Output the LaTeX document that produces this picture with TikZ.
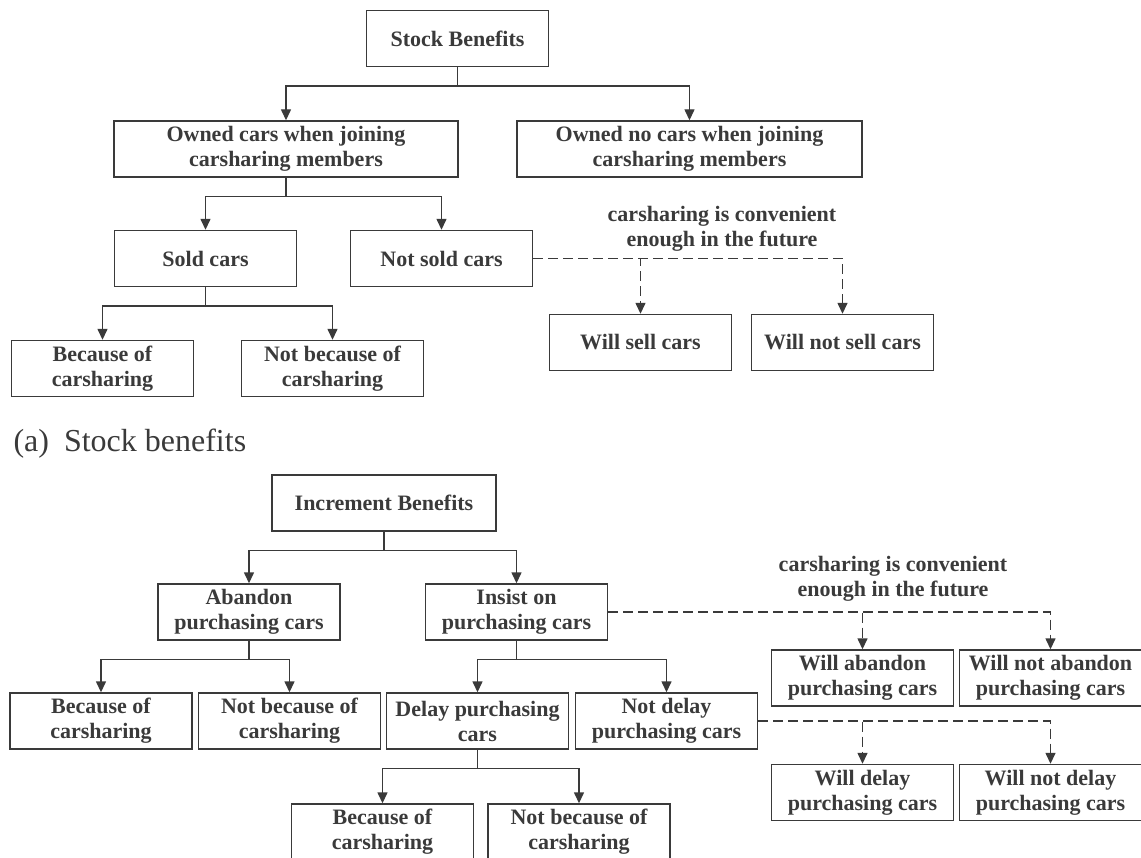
\documentclass[tikz,border=0pt]{standalone}
\usepackage{fontspec}
\setmainfont{Liberation Serif}
\usetikzlibrary{arrows.meta}
\definecolor{ink}{HTML}{3A3A3A}
\tikzset{
    box/.style={draw=ink, line width=1.4pt, text=ink, align=center, inner sep=2pt,
        minimum width=182pt, minimum height=56pt,
        font=\fontsize{22}{25}\selectfont\bfseries},
    link/.style={draw=ink, line width=1.4pt, -{Triangle[length=11pt,width=10pt]}},
    dlink/.style={link, dash pattern=on 10pt off 5pt},
    note/.style={text=ink, align=center, font=\fontsize{22}{25}\selectfont\bfseries}
}

\begin{document}
\begin{tikzpicture}[x=1pt,y=-1pt]
    \useasboundingbox (0,0) rectangle (1141,858);
    % (a) stock benefits
    \node[box] (sb) at (457.5,38.5) {Stock Benefits};
    \node[box, minimum width=344pt] (own) at (286,149) {Owned cars when joining\\carsharing members};
    \node[box, minimum width=345pt] (nown) at (689.5,149) {Owned no cars when joining\\carsharing members};
    \node[box] (sold) at (205.5,258.5) {Sold cars};
    \node[box] (nsold) at (441.5,258.5) {Not sold cars};
    \node[box] (bcsa) at (102.5,368.5) {Because of\\carsharing};
    \node[box] (nbcsa) at (332.5,368.5) {Not because of\\carsharing};
    \node[box] (wsell) at (640.5,342.5) {Will sell cars};
    \node[box] (wnsell) at (842.5,342.5) {Will not sell cars};
    \node[note] (conva) at (722,229) {carsharing is convenient\\enough in the future};
    \node[anchor=base west, text=ink, font=\fontsize{32}{38}\selectfont] (capa) at (10,452)
        {(a)\hspace{15pt}Stock benefits};

    % (b) increment benefits
    \node[box, minimum width=224pt] (ib) at (384,503) {Increment Benefits};
    \node[box] (aband) at (249,612) {Abandon\\purchasing cars};
    \node[box] (insist) at (516.5,612) {Insist on\\purchasing cars};
    \node[box] (bcsb) at (101,721) {Because of\\carsharing};
    \node[box] (nbcsb) at (289.5,721) {Not because of\\carsharing};
    \node[box] (delay) at (477.5,721) {Delay purchasing\\cars};
    \node[box] (ndelay) at (666.5,721) {Not delay\\purchasing cars};
    \node[box] (bcsc) at (382.5,832) {Because of\\carsharing};
    \node[box] (nbcsc) at (579,832) {Not because of\\carsharing};
    \node[box] (wab) at (862.5,678) {Will abandon\\purchasing cars};
    \node[box] (wnab) at (1050.5,678) {Will not abandon\\purchasing cars};
    \node[box] (wdl) at (862.5,792.5) {Will delay\\purchasing cars};
    \node[box] (wndl) at (1050.5,792.5) {Will not delay\\purchasing cars};
    \node[note] (convb) at (893,579) {carsharing is convenient\\enough in the future};

    % tree links
    \foreach \p/\c in {sb/own, sb/nown, own/sold, own/nsold, sold/bcsa, sold/nbcsa,
        ib/aband, ib/insist, aband/bcsb, aband/nbcsb, insist/delay, insist/ndelay,
        delay/bcsc, delay/nbcsc}
        \draw[link] (\p.south) -- ++(0,19) -| (\c.north);

    % future options
    \foreach \p/\c in {nsold/wsell, nsold/wnsell, insist/wab, insist/wnab,
        ndelay/wdl, ndelay/wndl}
        \draw[dlink] (\p.east) -| (\c.north);
\end{tikzpicture}
\end{document}
